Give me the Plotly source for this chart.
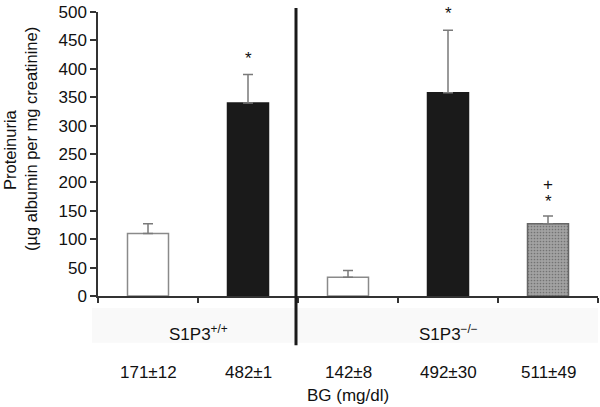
import plotly.graph_objects as go

# ---- data ----
bg_labels = ["171±12", "482±1", "142±8", "492±30", "511±49"]
proteinuria = [110, 340, 33, 358, 127]
sem_up = [17, 50, 12, 110, 14]
fill_colors = ["#ffffff", "#1a1a1a", "#ffffff", "#1a1a1a", "#a2a2a2"]
line_colors = ["#8a8a8a", "#1a1a1a", "#8a8a8a", "#1a1a1a", "#666666"]
patterns = ["", "", "", "", "."]
group_labels = ["S1P3<sup>+/+</sup>", "S1P3<sup>−/−</sup>"]
group_centers = [0.5, 3.0]
marks = [(1, 418, "*"), (3, 498, "*"), (4, 166, "*"), (4, 197, "+")]
y_ticks = [0, 50, 100, 150, 200, 250, 300, 350, 400, 450, 500]

FONT = "Liberation Sans, Arial, sans-serif"
x_idx = list(range(len(bg_labels)))

fig = go.Figure()
fig.add_trace(go.Bar(
    x=x_idx, y=proteinuria, width=0.41,
    marker=dict(color=fill_colors,
                line=dict(color=line_colors, width=1.5),
                pattern=dict(shape=patterns, fgcolor="#6e6e6e",
                             size=3, solidity=0.25, fillmode="overlay")),
    error_y=dict(type="data", symmetric=False, array=sem_up,
                 arrayminus=[0] * len(sem_up), color="#7a7a7a",
                 thickness=1.5, width=5),
    showlegend=False,
))

annotations = []
for xi, yv, t in marks:
    annotations.append(dict(x=xi, y=yv, xref="x", yref="y", text=t, showarrow=False,
                            font=dict(size=17, color="#111", family=FONT)))
for lab, xc in zip(group_labels, group_centers):
    annotations.append(dict(x=xc, y=-0.130, xref="x", yref="paper", text=lab,
                            showarrow=False, yanchor="middle",
                            font=dict(size=17, color="#111", family=FONT)))
for xi, lab in zip(x_idx, bg_labels):
    annotations.append(dict(x=xi, y=-0.268, xref="x", yref="paper", text=lab,
                            showarrow=False, yanchor="middle",
                            font=dict(size=17, color="#111", family=FONT)))
annotations.append(dict(x=2, y=-0.349, xref="x", yref="paper", text="BG (mg/dl)",
                        showarrow=False, yanchor="middle",
                        font=dict(size=17, color="#111", family=FONT)))
annotations.append(dict(x=-0.176, y=0.514, xref="paper", yref="paper", text="Proteinuria",
                        showarrow=False, textangle=-90, xanchor="center", yanchor="middle",
                        font=dict(size=16.5, color="#111", family=FONT)))
annotations.append(dict(x=-0.134, y=0.553, xref="paper", yref="paper",
                        text="(µg albumin per mg creatinine)",
                        showarrow=False, textangle=-90, xanchor="center", yanchor="middle",
                        font=dict(size=16.5, color="#111", family=FONT)))

fig.update_layout(
    width=600, height=407,
    margin=dict(l=98, r=2, t=12, b=111),
    paper_bgcolor="white", plot_bgcolor="white",
    font=dict(family=FONT, size=17, color="#111"),
    annotations=annotations,
    shapes=[
        dict(type="rect", xref="paper", yref="paper", x0=-0.012, x1=1.0,
             y0=-0.165, y1=-0.042, fillcolor="#f9f9f9", line=dict(width=0), layer="below"),
        dict(type="line", xref="x", yref="paper", x0=1.48, x1=1.48,
             y0=-0.173, y1=1.014, line=dict(color="#1a1a1a", width=3)),
    ],
    xaxis=dict(range=[-0.5, 4.5], showgrid=False, zeroline=False,
               showline=True, linecolor="#333", linewidth=1.5,
               tickmode="array", tickvals=[-0.5, 0.5, 1.5, 2.5, 3.5, 4.5],
               ticks="outside", ticklen=5, tickcolor="#333", tickwidth=1.5,
               showticklabels=False),
    yaxis=dict(range=[0, 500], showgrid=False, zeroline=False,
               showline=True, linecolor="#333", linewidth=1.5,
               tickvals=y_ticks, ticks="outside", ticklen=6, tickcolor="#333",
               tickwidth=1.5, tickfont=dict(size=17, color="#111", family=FONT)),
)

fig.write_html("out.html", config={"displayModeBar": False},
               post_script="document.body.style.margin='0px';")
